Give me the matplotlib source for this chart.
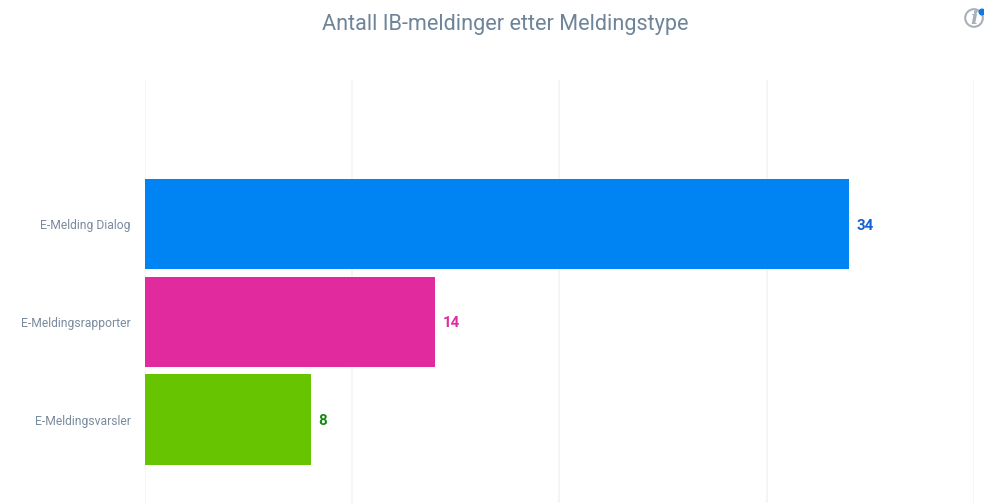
#!/usr/bin/env python3
"""Antall IB-meldinger etter Meldingstype - horizontal bar chart."""

import matplotlib
matplotlib.use('Agg')
import matplotlib.pyplot as plt
from matplotlib.patches import Circle, Rectangle

plt.rcParams['font.family'] = ['Roboto', 'DejaVu Sans']

categories = ['E-Melding Dialog', 'E-Meldingsrapporter', 'E-Meldingsvarsler']
values = [34, 14, 8]
bar_colors = ['#0084F4', '#E02A9E', '#66C400']
label_colors = ['#1560D4', '#E02A9E', '#128A12']
grid_ticks = [0, 10, 20, 30, 40]

W, H = 991, 503

fig = plt.figure(figsize=(W / 100, H / 100), dpi=100, facecolor='white')
ax = fig.add_axes([145 / W, 0, (973.8 - 145) / W, (503 - 80) / H])

y_pos = list(range(len(categories)))
ax.barh(y_pos, values, height=0.925, color=bar_colors, zorder=3)
ax.set_xlim(0, 40)
ax.set_ylim(2.853, -1.472)

ax.set_xticks(grid_ticks)
ax.tick_params(axis='x', length=0, labelbottom=False)
ax.set_yticks(y_pos)
ax.set_yticklabels(categories, fontsize=8.7, color='#7A8B9E')
ax.tick_params(axis='y', length=0, pad=10.2)
ax.grid(True, axis='x', color='#F3F3F5', linewidth=1.2, zorder=0)
ax.set_axisbelow(True)
for spine in ax.spines.values():
    spine.set_visible(False)

for y, val, col in zip(y_pos, values, label_colors):
    ax.annotate(str(val), (val, y), xytext=(5.2, -1.2), textcoords='offset points',
                va='center', ha='left', fontsize=10.8, fontweight='bold', color=col,
                zorder=4)

fig.text(505.5 / W, 1 - 24.8 / H, 'Antall IB-meldinger etter Meldingstype',
         ha='center', va='center', fontsize=15.6, color='#6E8499')

# info icon, top right
fig.add_artist(Circle((974, H - 18), 8.8, transform=None, facecolor='white',
                      edgecolor='#A9B0B8', linewidth=1.5))
fig.text(974 / W, 1 - 18.5 / H, 'i', ha='center', va='center', fontsize=14,
         style='italic', fontweight='bold', family=['DejaVu Serif'], color='#A9B0B8')
fig.add_artist(Circle((982, H - 12), 3.5, transform=None, facecolor='#0F78E8',
                      edgecolor='none'))
# the page cuts the icon off at the right
fig.add_artist(Rectangle((983.5, H - 30), 8, 30, transform=None, facecolor='white',
                         edgecolor='none'))

fig.savefig('out.png', dpi=100, facecolor='white')
